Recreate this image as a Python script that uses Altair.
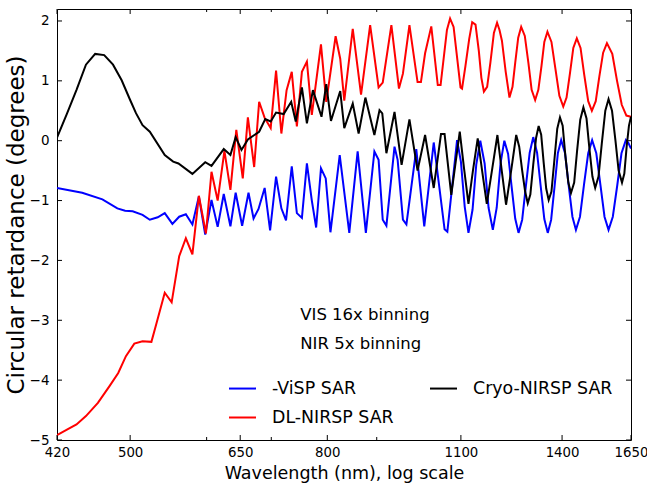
import altair as alt
import pandas as pd

# ---------------- data ----------------
series_names = ["-ViSP SAR", "DL-NIRSP SAR", "Cryo-NIRSP SAR"]

visp_wl = [420,446,468,485,494,503,515,524,534,543,553,562,571,580,589,598,607,616,625,635,
           643,653,663,671,679,689,698,708,717,725,735,744,753,762,771,779,788,797,806,824,
           843,860,877,895,904,913,921,939,946,958,966,989,1008,1031,1058,1065,1090,1100,1110,1120,
           1131,1141,1152,1164,1175,1187,1198,1209,1220,1231,1241,1252,1262,1273,1284,1296,1307,1319,1330,1342,
           1353,1364,1375,1386,1397,1410,1422,1435,1447,1461,1475,1490,1504,1519,1534,1549,1564,1580,1597,1613,
           1630,1640,1650]
visp_val = [-0.79,-0.87,-0.98,-1.13,-1.17,-1.18,-1.24,-1.32,-1.28,-1.21,-1.39,-1.27,-1.23,-1.40,-0.93,-1.57,-0.99,-1.44,-0.89,-1.43,
            -0.87,-1.42,-0.87,-1.30,-1.14,-0.79,-1.50,-0.60,-1.13,-1.33,-0.43,-1.21,-1.29,-0.38,-1.00,-1.45,-0.46,-0.63,-1.53,-0.24,
            -1.54,-0.18,-1.54,-0.18,-0.32,-1.32,-1.42,-0.10,-0.32,-1.32,-1.40,-0.14,-1.43,-0.03,-1.48,-1.52,0.01,-0.35,-1.1,-1.54,
            -1.15,-0.4,0.0,-0.38,-1.12,-1.49,-1.12,-0.38,0.0,-0.22,-0.75,-1.3,-1.54,-1.32,-0.77,-0.2,0.06,-0.2,-0.74,-1.31,
            -1.54,-1.32,-0.77,-0.21,0.01,-0.21,-0.74,-1.27,-1.49,-1.27,-0.74,-0.21,0.01,-0.21,-0.74,-1.27,-1.49,-1.27,-0.74,-0.21,
            0.01,-0.04,-0.13]

dl_wl = [420,431,440,450,463,476,486,495,505,515,526,532,543,552,562,571,580,589,599,607,
         616,626,635,644,654,662,672,680,689,699,708,717,726,735,744,753,762,771,788,798,
         816,825,833,850,867,886,904,913,932,949,958,973,992,1000,1010,1025,1041,1048,1064,1072,
         1081,1099,1103,1112,1122,1130,1139,1148,1155,1162,1171,1180,1190,1199,1206,1213,1224,1235,1244,1252,
         1261,1270,1281,1292,1302,1313,1323,1333,1342,1352,1365,1378,1391,1404,1415,1427,1438,1450,1463,1476,
         1490,1503,1517,1530,1544,1558,1578,1596,1614,1632,1650]
dl_val = [-4.92,-4.82,-4.74,-4.6,-4.38,-4.1,-3.88,-3.6,-3.39,-3.35,-3.36,-3.07,-2.54,-2.70,-1.93,-1.63,-1.90,-0.92,-1.55,-0.52,
          -1.0,-0.17,-0.82,0.18,-0.63,0.39,-0.44,0.65,0.38,0.21,1.17,0.12,0.845,1.15,0.24,1.15,1.32,0.43,1.61,0.65,
          1.745,1.37,0.67,1.87,0.77,1.93,0.89,0.97,1.93,0.87,1.12,1.93,0.98,0.98,1.46,1.91,0.93,0.93,1.85,2.04,
          1.9,0.89,0.87,1.25,1.7,1.98,1.94,1.5,1.05,0.82,0.9,1.3,1.8,1.97,1.85,1.67,1.15,0.72,0.9,1.3,
          1.72,1.9,1.75,1.3,0.85,0.68,0.85,1.25,1.65,1.82,1.65,1.2,0.75,0.57,0.72,1.14,1.55,1.71,1.55,1.1,
          0.66,0.5,0.66,1.07,1.47,1.63,1.45,1.0,0.6,0.42,0.40]

cryo_wl = [420,430,440,450,460,470,480,490,500,507,515,524,543,554,561,580,598,607,625,635,
           643,652,662,680,690,699,708,721,734,742,753,762,773,789,798,807,825,833,850,862,
           876,895,906,912,921,939,955,973,992,1010,1031,1049,1058,1075,1097,1108,1120,1132,1145,1157,
           1170,1185,1200,1212,1225,1240,1255,1264,1273,1282,1290,1298,1307,1316,1324,1332,1340,1348,1356,1365,
           1375,1384,1393,1402,1411,1421,1430,1441,1451,1462,1473,1484,1494,1505,1515,1527,1539,1552,1564,1577,
           1590,1602,1615,1624,1633,1642,1650]
cryo_val = [0.05,0.45,0.85,1.27,1.45,1.43,1.27,1.01,0.68,0.46,0.26,0.15,-0.24,-0.35,-0.38,-0.555,-0.36,-0.42,-0.14,-0.24,
            0.06,-0.155,0.02,0.15,0.36,0.32,0.47,0.445,0.65,0.32,0.89,0.29,0.845,0.40,0.945,0.33,0.83,0.21,0.62,0.12,
            0.72,0.095,0.51,0.455,-0.21,0.48,-0.405,0.355,-0.5,0.095,-0.79,0.11,0.11,-0.905,0.15,-0.45,-1.055,-0.5,0.04,-0.5,
            -1.055,-0.48,0.095,-0.48,-1.07,-0.5,0.095,-0.1,-0.5,-0.85,-1.045,-0.9,-0.4,0.05,0.245,0.1,-0.37,-0.8,-0.99,-0.85,
            -0.3,0.2,0.39,0.25,-0.25,-0.7,-0.875,-0.7,-0.17,0.35,0.555,0.37,-0.12,-0.6,-0.79,-0.6,-0.05,0.5,0.695,0.5,
            0.0,-0.5,-0.70,-0.55,-0.1,0.25,0.40]

x_tick_values = [420, 500, 650, 800, 1100, 1400, 1650]
x_minor_ticks = [600, 700, 900]
y_tick_values = [-5, -4, -3, -2, -1, 0, 1, 2]

ann_text = ["VIS 16x binning", "NIR 5x binning"]
ann_wl = [750, 750]
ann_val = [-2.91, -3.40]

# ---------------- chart ----------------
W, H = 574, 431
FONT = "DejaVu Sans"


def frame(name, wl, val):
    return pd.DataFrame({"series": name, "wl": wl, "val": val, "idx": list(range(len(wl)))})


xscale = alt.Scale(type="log", domain=[420, 1650], nice=False)
yscale = alt.Scale(domain=[-5, 2.2], nice=False, zero=False)
color_scale = alt.Scale(domain=series_names, range=["#0000ff", "#ff0000", "#000000"])

x_axis = alt.Axis(values=x_tick_values, format="d", title="Wavelength (nm), log scale",
                  grid=False, ticks=False, domain=False, labelFlush=False,
                  labelOverlap=False, labelPadding=5, labelFontSize=13.3, labelFont=FONT,
                  labelColor="black", titleFontSize=17.5, titleFont=FONT, titleFontWeight="normal",
                  titleColor="black", titlePadding=6)
y_axis = alt.Axis(values=y_tick_values, title="Circular retardance (degrees)",
                  grid=False, ticks=False, domain=False, labelFlush=False,
                  labelOverlap=False, labelPadding=8, labelFontSize=13.5, labelFont=FONT,
                  labelColor="black",
                  titleFontSize=23, titleFont=FONT, titleFontWeight="normal", titleColor="black",
                  titlePadding=1)
legend = alt.Legend(title=None, orient="none", legendX=171, legendY=365, columns=2,
                    symbolType="stroke", symbolSize=729, symbolStrokeWidth=2,
                    labelFontSize=17.4, labelFont=FONT, labelColor="black", labelOffset=15,
                    columnPadding=32, rowPadding=6)

X = lambda f: alt.X(f, scale=xscale, axis=x_axis)
Y = lambda f: alt.Y(f, scale=yscale, axis=y_axis)


def line_layer(df):
    return alt.Chart(df).mark_line(strokeWidth=2, clip=True).encode(
        x=X("wl:Q"),
        y=Y("val:Q"),
        color=alt.Color("series:N", scale=color_scale, legend=legend),
        order="idx:Q",
    )


layers = [
    line_layer(frame(series_names[0], visp_wl, visp_val)),
    line_layer(frame(series_names[1], dl_wl, dl_val)),
    line_layer(frame(series_names[2], cryo_wl, cryo_val)),
]

xt = pd.DataFrame({"wl": x_tick_values})
xm = pd.DataFrame({"wl": x_minor_ticks})
yt = pd.DataFrame({"val": y_tick_values})
for df_, ln in [(xt, 5), (xm, 3)]:
    layers.append(alt.Chart(df_).mark_rule(color="black", strokeWidth=1).encode(
        x=X("wl:Q"), y=alt.value(H), y2=alt.value(H - ln)))
    layers.append(alt.Chart(df_).mark_rule(color="black", strokeWidth=1).encode(
        x=X("wl:Q"), y=alt.value(0), y2=alt.value(ln)))
layers.append(alt.Chart(yt).mark_rule(color="black", strokeWidth=1).encode(
    y=Y("val:Q"), x=alt.value(0), x2=alt.value(5)))
layers.append(alt.Chart(yt).mark_rule(color="black", strokeWidth=1).encode(
    y=Y("val:Q"), x=alt.value(W), x2=alt.value(W - 5)))

ann = pd.DataFrame({"text": ann_text, "wl": ann_wl, "val": ann_val})
layers.append(alt.Chart(ann).mark_text(align="left", baseline="middle", fontSize=16.5, font=FONT,
                                        color="black").encode(
    x=X("wl:Q"), y=Y("val:Q"), text="text:N"))

chart = alt.layer(*layers).properties(
    width=W, height=H,
    padding={"left": 57, "top": 9, "right": 16, "bottom": 43},
    autosize=alt.AutoSizeParams(type="none"),
    background="white",
).configure(font=FONT).configure_view(stroke="black", strokeWidth=1)

chart.save("out.html", embed_options={"renderer": "svg", "actions": False})
